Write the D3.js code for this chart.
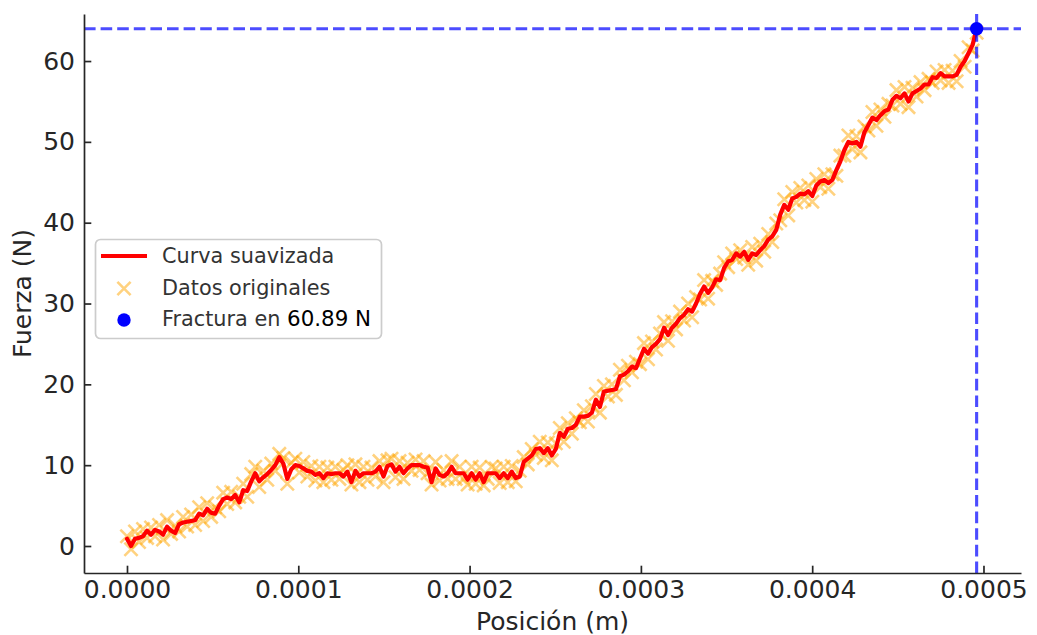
<!DOCTYPE html>
<html>
<head>
<meta charset="utf-8">
<script src="https://cdn.jsdelivr.net/npm/d3@7"></script>
<style>
  body { margin: 0; background: #fff; }
  svg { display: block; font-family: "DejaVu Sans", sans-serif; }
</style>
</head>
<body>
<script>
// Chart size
var width = 1037,
    height = 635;

// Sampling of the test: first and last position (m)
var posStart = 0,
    posEnd = 0.000496;

// Smoothed force curve (N), one value per sample
var smoothF = [
  0.9, 0.0, 0.9, 1.0, 1.2, 1.9, 1.4, 2.0, 1.8, 1.4,
  2.4, 1.9, 1.6, 2.7, 2.9, 3.0, 3.1, 3.2, 4.0, 3.8,
  4.6, 4.1, 4.0, 5.0, 5.8, 6.0, 5.8, 6.3, 5.4, 6.9,
  6.8, 8.0, 9.0, 8.0, 8.5, 8.9, 9.4, 10.0, 11.0, 10.2,
  8.3, 9.5, 10.0, 9.9, 9.6, 9.3, 9.2, 8.8, 9.0, 8.4,
  9.0, 8.9, 9.0, 9.0, 8.6, 9.2, 7.9, 9.3, 8.6, 9.0,
  9.0, 9.0, 9.2, 9.8, 8.6, 9.9, 10.1, 9.2, 9.8, 9.0,
  9.6, 10.0, 10.0, 10.0, 9.8, 9.7, 7.9, 9.6, 8.8, 8.6,
  9.0, 9.8, 9.0, 9.0, 9.0, 8.2, 9.0, 8.2, 9.0, 7.9,
  9.0, 9.0, 9.0, 8.4, 9.0, 8.4, 9.2, 8.4, 8.6, 10.4,
  10.8, 11.2, 12.0, 12.1, 11.5, 12.1, 11.2, 12.0, 14.0, 13.5,
  14.5, 14.6, 15.0, 16.0, 16.0, 16.1, 16.5, 18.1, 17.2, 19.1,
  19.2, 19.3, 19.4, 21.0, 21.2, 21.6, 22.2, 22.0, 23.2, 24.4,
  23.8, 24.6, 25.0, 25.6, 27.0, 26.1, 27.0, 27.5, 28.2, 28.6,
  29.3, 29.0, 30.0, 31.2, 32.1, 31.3, 32.0, 33.0, 32.9, 34.4,
  35.2, 35.4, 36.2, 35.8, 36.4, 35.4, 36.2, 36.0, 36.6, 37.1,
  37.9, 38.3, 39.1, 41.0, 42.2, 41.6, 43.0, 43.2, 43.6, 43.5,
  43.9, 43.3, 44.6, 45.1, 45.3, 44.9, 45.3, 46.5, 47.6, 49.0,
  50.0, 49.8, 50.0, 49.4, 51.2, 52.1, 53.0, 52.7, 53.3, 53.8,
  54.0, 55.2, 55.7, 55.4, 56.0, 55.0, 56.0, 56.3, 56.6, 57.1,
  57.1, 58.0, 57.9, 58.5, 58.1, 58.1, 58.1, 58.3, 59.3, 60.0,
  61.0, 62.0, 64.0
];

// Original (noisy) force readings (N), same samples
var rawF = [
  1.2, -0.4, 1.8, 0.5, 2.1, 1.0, 2.3, 1.2, 2.6, 0.8,
  3.2, 1.5, 2.5, 1.8, 3.6, 2.4, 3.9, 2.6, 4.8, 3.1,
  5.3, 3.6, 4.8, 4.3, 6.6, 5.2, 6.7, 5.4, 6.1, 7.7,
  6.1, 8.9, 9.8, 7.3, 9.3, 8.2, 10.2, 9.3, 11.4, 10.9,
  7.7, 10.3, 10.8, 9.1, 10.4, 8.6, 9.9, 8.1, 9.8, 7.9,
  9.7, 8.2, 9.8, 8.3, 9.4, 10.0, 7.6, 10.1, 7.9, 9.8,
  8.2, 9.7, 8.6, 10.5, 7.9, 10.6, 10.8, 8.5, 10.5, 8.3,
  10.3, 9.3, 10.7, 9.4, 10.5, 9.0, 7.6, 10.4, 8.1, 9.4,
  8.3, 10.5, 8.3, 9.8, 8.3, 7.6, 9.8, 7.7, 9.7, 7.5,
  8.3, 9.8, 9.6, 7.8, 9.8, 7.9, 9.9, 8.0, 9.3, 11.0,
  10.1, 12.0, 11.3, 12.9, 10.9, 12.8, 10.6, 12.7, 14.6, 12.9,
  15.2, 13.9, 15.8, 15.3, 16.8, 15.4, 17.3, 18.8, 16.5, 19.8,
  18.5, 20.0, 18.7, 21.8, 20.5, 22.3, 21.5, 22.8, 22.5, 25.1,
  23.1, 25.3, 24.3, 26.3, 27.7, 25.4, 27.8, 26.8, 29.0, 27.9,
  30.0, 28.3, 30.8, 30.5, 32.9, 30.6, 32.8, 32.3, 33.7, 35.1,
  34.5, 36.2, 35.5, 36.6, 35.7, 34.8, 37.0, 35.3, 37.4, 36.4,
  38.6, 37.6, 39.9, 40.3, 42.9, 40.9, 43.8, 42.5, 44.3, 42.8,
  44.6, 42.6, 45.4, 44.4, 46.0, 44.2, 46.0, 45.8, 48.3, 48.3,
  50.8, 49.1, 50.7, 48.7, 51.9, 51.4, 53.7, 52.0, 54.0, 53.1,
  54.7, 54.5, 56.4, 54.7, 56.8, 54.3, 56.7, 55.6, 57.4, 56.4,
  57.8, 57.3, 58.7, 57.6, 58.9, 57.3, 58.8, 57.5, 60.0, 59.3,
  61.7, 61.3, 63.5
];

// Fracture point
var fractureX = 0.000496,
    fractureF = 64.0,
    fractureText = "60.89 N";

// Ticks and labels
var xTicks = [0, 0.0001, 0.0002, 0.0003, 0.0004, 0.0005];
var yTicks = [0, 10, 20, 30, 40, 50, 60];
var legendLabels = ["Curva suavizada", "Datos originales", "Fractura en "];
var xLabel = "Posición (m)",
    yLabel = "Fuerza (N)";

// Sample positions, evenly spaced between first and last position
var pos = smoothF.map(function(d, i) {
    return posStart + (posEnd - posStart) * i / (smoothF.length - 1);
});

var tickFont = 25,
    legendFont = 20.8,
    ink = "#262626";

var svg = d3.select("body")
    .append("svg")
    .attr("width", width)
    .attr("height", height);

// Scales (plot area: left spine 84, bottom spine 573)
var x = d3.scaleLinear()
    .domain([-0.0000251, 0.0005219])
    .range([84, 1021]);

var y = d3.scaleLinear()
    .domain([-3.34, 65.82])
    .range([573, 14]);

// Original data as "x" markers
var msz = 6.6;
var cross = "M" + (-msz) + "," + (-msz) + "L" + msz + "," + msz +
            "M" + (-msz) + "," + msz + "L" + msz + "," + (-msz);

svg.append("g")
    .selectAll("path")
    .data(rawF)
    .enter().append("path")
    .attr("transform", function(d, i) { return "translate(" + x(pos[i]) + "," + y(d) + ")"; })
    .attr("d", cross)
    .attr("stroke", "orange")
    .attr("stroke-opacity", 0.5)
    .attr("stroke-width", 2.6)
    .attr("fill", "none");

// Smoothed curve
var line = d3.line()
    .x(function(d, i) { return x(pos[i]); })
    .y(function(d) { return y(d); });

svg.append("path")
    .datum(smoothF)
    .attr("d", line)
    .attr("fill", "none")
    .attr("stroke", "red")
    .attr("stroke-width", 4.2)
    .attr("stroke-linejoin", "round")
    .attr("stroke-linecap", "round");

// Fracture point
svg.append("circle")
    .attr("cx", x(fractureX))
    .attr("cy", y(fractureF))
    .attr("r", 6.7)
    .attr("fill", "blue");

// Dashed guides through the fracture point
svg.append("line")
    .attr("x1", x.range()[0]).attr("x2", x.range()[1])
    .attr("y1", y(fractureF)).attr("y2", y(fractureF))
    .attr("stroke", "blue").attr("stroke-opacity", 0.7)
    .attr("stroke-width", 3.1)
    .attr("stroke-dasharray", "11.6,5");

svg.append("line")
    .attr("x1", x(fractureX)).attr("x2", x(fractureX))
    .attr("y1", y.range()[0]).attr("y2", y.range()[1])
    .attr("stroke", "blue").attr("stroke-opacity", 0.7)
    .attr("stroke-width", 3.1)
    .attr("stroke-dasharray", "11.6,5");

// Axes: ticks point inward, only left and bottom spines
var xAxis = svg.append("g")
    .attr("transform", "translate(0,573)")
    .call(d3.axisBottom(x)
        .tickValues(xTicks)
        .tickFormat(d3.format(".4f"))
        .tickSizeInner(-7.3)
        .tickSizeOuter(0)
        .tickPadding(7.3));

var yAxis = svg.append("g")
    .attr("transform", "translate(84,0)")
    .call(d3.axisLeft(y)
        .tickValues(yTicks)
        .tickFormat(d3.format("d"))
        .tickSizeInner(-7.3)
        .tickSizeOuter(0)
        .tickPadding(9));

[xAxis, yAxis].forEach(function(g) {
    g.attr("font-family", null).attr("font-size", tickFont);
    g.select(".domain").attr("stroke", ink).attr("stroke-width", 1.7);
    g.selectAll(".tick line").attr("stroke", ink).attr("stroke-width", 1.7);
    g.selectAll(".tick text").attr("fill", ink);
});

// Axis titles
svg.append("text")
    .attr("x", (x.range()[0] + x.range()[1]) / 2)
    .attr("y", 630)
    .attr("text-anchor", "middle")
    .attr("font-size", tickFont)
    .attr("fill", ink)
    .text(xLabel);

svg.append("text")
    .attr("transform", "translate(31," + ((y.range()[0] + y.range()[1]) / 2) + ") rotate(-90)")
    .attr("text-anchor", "middle")
    .attr("font-size", tickFont)
    .attr("fill", ink)
    .text(yLabel);

// Legend
var legend = svg.append("g")
    .attr("transform", "translate(95,239)");

legend.append("rect")
    .attr("x", 0.5).attr("y", 0.5)
    .attr("width", 286).attr("height", 99)
    .attr("rx", 5)
    .attr("fill", "#fff").attr("fill-opacity", 0.8)
    .attr("stroke", "#cccccc").attr("stroke-width", 1.7);

var rowY = [17, 48.5, 80];

legend.append("line")
    .attr("x1", 6).attr("x2", 52)
    .attr("y1", rowY[0]).attr("y2", rowY[0])
    .attr("stroke", "red").attr("stroke-width", 4.2);

legend.append("path")
    .attr("transform", "translate(29," + (rowY[1] + 1) + ")")
    .attr("d", cross)
    .attr("stroke", "orange").attr("stroke-opacity", 0.5)
    .attr("stroke-width", 2.6);

legend.append("circle")
    .attr("cx", 29).attr("cy", rowY[2] + 1)
    .attr("r", 6.7)
    .attr("fill", "blue");

legend.selectAll("text.lab")
    .data(legendLabels)
    .enter().append("text")
    .attr("class", "lab")
    .attr("x", 67)
    .attr("y", function(d, i) { return rowY[i] + 7.4; })
    .attr("font-size", legendFont)
    .attr("fill", "#333")
    .text(function(d) { return d; })
    .filter(function(d, i) { return i == 2; })
    .append("tspan")
    .attr("fill", "#000")
    .attr("font-size", 21.4)
    .text(fractureText);
</script>
</body>
</html>
